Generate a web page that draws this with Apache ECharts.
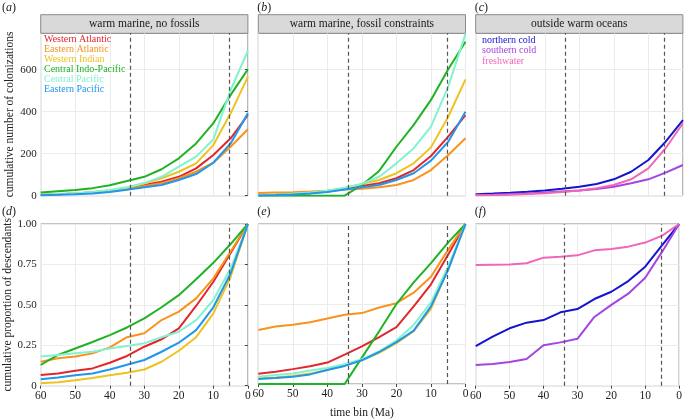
<!DOCTYPE html>
<html>
<head>
<meta charset="utf-8">
<script src="https://cdn.jsdelivr.net/npm/echarts@6/dist/echarts.min.js"></script>
<style>
  html, body { margin: 0; padding: 0; background: #fff; }
  #main { width: 685px; height: 420px; }
</style>
</head>
<body>
<div id="main"></div>
<script>
// time bins (Ma), oldest first
const times = [60, 55, 50, 45, 40, 35, 30, 25, 20, 15, 10, 5, 0];
const xTickLabels = [60, 50, 40, 30, 20, 10, 0];
const boundaries = [34, 5.3]; // Eocene-Oligocene, Miocene-Pliocene

// (a) warm marine, no fossils - cumulative number of colonizations
const aWestAtl = [4, 7, 11, 16, 24, 35, 51, 67, 90, 130, 194, 273, 384];
const aEastAtl = [3, 6, 10, 15, 22, 33, 46, 59, 83, 114, 157, 233, 316];
const aWestInd = [4, 7, 11, 17, 26, 38, 58, 83, 114, 154, 241, 392, 567];
const aCentIP = [15, 21, 27, 36, 50, 70, 90, 126, 178, 249, 345, 480, 602];
const aCentPac = [5, 8, 12, 18, 27, 40, 60, 90, 138, 186, 268, 503, 690];
const aEastPac = [2, 4, 7, 11, 18, 28, 40, 51, 75, 103, 157, 249, 392];

// (b) warm marine, fossil constraints
const bWestAtl = [2, 4, 7, 12, 20, 32, 46, 59, 83, 122, 189, 281, 384];
const bEastAtl = [13, 15, 17, 20, 24, 30, 33, 40, 51, 75, 122, 194, 273];
const bWestInd = [3, 5, 9, 14, 23, 36, 56, 75, 107, 154, 230, 376, 554];
const bCentIP = [0, 0, 0, 0, 0, 0, 51, 118, 233, 337, 456, 602, 733];
const bCentPac = [3, 5, 9, 15, 24, 38, 56, 90, 154, 226, 329, 519, 770];
const bEastPac = [1, 3, 6, 10, 18, 30, 40, 51, 75, 107, 167, 257, 400];

// (c) outside warm oceans
const cNorthCold = [7, 10, 14, 19, 25, 33, 43, 56, 78, 114, 170, 257, 360];
const cSouthCold = [3, 5, 8, 11, 15, 20, 25, 32, 43, 59, 78, 110, 146];
const cFresh = [2, 3, 5, 8, 12, 18, 25, 35, 51, 78, 130, 226, 345];

// (d) cumulative proportion of descendants, no fossils
const dWestAtl = [0.066, 0.076, 0.093, 0.107, 0.142, 0.184, 0.241, 0.287, 0.355, 0.493, 0.643, 0.82, 1];
const dEastAtl = [0.148, 0.17, 0.18, 0.2, 0.237, 0.3, 0.324, 0.406, 0.458, 0.54, 0.664, 0.83, 1];
const dWestInd = [0.015, 0.022, 0.033, 0.047, 0.064, 0.08, 0.1, 0.148, 0.216, 0.3, 0.447, 0.674, 1];
const dCentIP = [0.128, 0.19, 0.23, 0.27, 0.313, 0.36, 0.416, 0.485, 0.56, 0.658, 0.76, 0.876, 1];
const dCentPac = [0.18, 0.19, 0.2, 0.21, 0.23, 0.245, 0.262, 0.3, 0.334, 0.406, 0.53, 0.726, 1];
const dEastPac = [0.04, 0.05, 0.064, 0.076, 0.1, 0.13, 0.159, 0.21, 0.266, 0.344, 0.485, 0.695, 1];

// (e) fossil constraints
const eWestAtl = [0.064, 0.076, 0.093, 0.111, 0.134, 0.184, 0.235, 0.293, 0.355, 0.485, 0.623, 0.81, 1];
const eEastAtl = [0.338, 0.36, 0.371, 0.386, 0.41, 0.433, 0.443, 0.478, 0.505, 0.571, 0.67, 0.84, 1];
const eWestInd = [0.035, 0.04, 0.05, 0.065, 0.09, 0.115, 0.15, 0.195, 0.255, 0.33, 0.47, 0.72, 1];
const eCentIP = [0, 0, 0, 0, 0, 0, 0.165, 0.33, 0.5, 0.635, 0.755, 0.885, 1];
const eCentPac = [0.045, 0.056, 0.066, 0.085, 0.1, 0.124, 0.155, 0.204, 0.272, 0.369, 0.51, 0.736, 1];
const eEastPac = [0.031, 0.037, 0.045, 0.06, 0.087, 0.113, 0.148, 0.2, 0.262, 0.334, 0.485, 0.715, 1];

// (f) outside warm oceans
const fNorthCold = [0.245, 0.303, 0.355, 0.39, 0.406, 0.454, 0.474, 0.536, 0.581, 0.647, 0.736, 0.87, 1];
const fSouthCold = [0.128, 0.134, 0.146, 0.165, 0.25, 0.268, 0.29, 0.425, 0.5, 0.569, 0.668, 0.829, 1];
const fFresh = [0.746, 0.748, 0.75, 0.757, 0.792, 0.798, 0.806, 0.837, 0.845, 0.86, 0.885, 0.928, 1];

const countTicks = [0, 200, 400, 600];
const propTicks = [0, 0.25, 0.5, 0.75, 1];

const warmNames = ['Western Atlantic', 'Eastern Atlantic', 'Western Indian',
  'Central Indo-Pacific', 'Central Pacific', 'Eastern Pacific'];
const coldNames = ['northern cold', 'southern cold', 'freshwater'];
const colors = {
  'Western Atlantic': '#e3262b',
  'Eastern Atlantic': '#f7931e',
  'Western Indian': '#eec21f',
  'Central Indo-Pacific': '#1fb323',
  'Central Pacific': '#82f2cf',
  'Eastern Pacific': '#2196ec',
  'northern cold': '#1414cf',
  'southern cold': '#a444e2',
  'freshwater': '#f166b6'
};
const stripTitles = ['warm marine, no fossils', 'warm marine, fossil constraints', 'outside warm oceans'];
const panelLetters = ['a', 'b', 'c', 'd', 'e', 'f'];

const panelData = [
  [aWestAtl, aEastAtl, aWestInd, aCentIP, aCentPac, aEastPac],
  [bWestAtl, bEastAtl, bWestInd, bCentIP, bCentPac, bEastPac],
  [cNorthCold, cSouthCold, cFresh],
  [dWestAtl, dEastAtl, dWestInd, dCentIP, dCentPac, dEastPac],
  [eWestAtl, eEastAtl, eWestInd, eCentIP, eCentPac, eEastPac],
  [fNorthCold, fSouthCold, fFresh]
];

const FONT = 'Liberation Serif';
const colLeft = [40.7, 258.3, 475.7];
const panelW = 207.2;
const rowTop = [33.3, 224];
const rowH = [162.4, 161.7];

var myChart = echarts.init(document.getElementById('main'));

let grids = [], xAxes = [], yAxes = [], series = [], graphics = [];

for (let p = 0; p < 6; p++) {
  let row = Math.floor(p / 3), col = p % 3;
  let bottomRow = row == 1, leftCol = col == 0;
  grids.push({
    left: colLeft[col], top: rowTop[row], width: panelW, height: rowH[row],
    show: true, borderColor: '#8a8a8a', borderWidth: 1, backgroundColor: '#fff'
  });
  xAxes.push({
    type: 'value', gridIndex: p, inverse: true, min: 0, max: 60, interval: 5,
    axisLine: { show: false },
    axisTick: { show: bottomRow, length: 3, lineStyle: { color: '#444' }, customValues: xTickLabels },
    axisLabel: { show: bottomRow, customValues: xTickLabels, margin: 4,
      fontFamily: FONT, fontSize: 11.5, color: '#222' },
    splitLine: { show: true, lineStyle: { color: '#ebebeb', width: 1 } },
    name: p == 4 ? 'time bin (Ma)' : '', nameLocation: 'middle', nameGap: 23,
    nameTextStyle: { fontFamily: FONT, fontSize: 11.5, color: '#222' }
  });
  let ticks = row == 0 ? countTicks : propTicks;
  yAxes.push({
    type: 'value', gridIndex: p, min: 0,
    max: row == 0 ? 773 : 1, interval: row == 0 ? 100 : 0.125,
    axisLine: { show: false },
    axisTick: { show: leftCol, length: 3, lineStyle: { color: '#444' }, customValues: ticks },
    axisLabel: { show: leftCol, customValues: ticks, margin: 4,
      fontFamily: FONT, fontSize: 11, color: '#222',
      formatter: function (v) { return (row == 0 || v == 0) ? String(v) : v.toFixed(2); } },
    splitLine: { show: true, lineStyle: { color: '#ebebeb', width: 1 } },
    name: leftCol ? (row == 0 ? 'cumulative number of colonizations' : 'cumulative proportion of descendants') : '',
    nameLocation: 'middle', nameGap: 25,
    nameTextStyle: { fontFamily: FONT, fontSize: 11.5, color: '#222' }
  });

  let names = col == 2 ? coldNames : warmNames;
  panelData[p].forEach(function (vals, i) {
    let nm = names[i];
    series.push({
      type: 'line', name: nm, xAxisIndex: p, yAxisIndex: p,
      data: times.map(function (t, k) { return [t, vals[k]]; }),
      showSymbol: false, symbol: 'none', silent: true,
      lineStyle: { width: 2, color: colors[nm] }, itemStyle: { color: colors[nm] }
    });
  });
  // dashed boundaries
  series.push({
    type: 'line', xAxisIndex: p, yAxisIndex: p, data: [], silent: true,
    markLine: {
      symbol: 'none', silent: true, label: { show: false },
      lineStyle: { type: [4, 3], color: '#555', width: 1.2 },
      data: boundaries.map(function (b) { return { xAxis: b }; })
    }
  });

  // strips on top row
  if (row == 0) {
    graphics.push({
      type: 'rect', shape: { x: colLeft[col], y: 14.7, width: panelW, height: 18.6 },
      style: { fill: '#d9d9d9', stroke: '#8a8a8a', lineWidth: 1 }
    });
    graphics.push({
      type: 'text', x: colLeft[col] + panelW / 2, y: 24,
      style: { text: stripTitles[col], font: '11.5px "Liberation Serif"', fill: '#1a1a1a',
        align: 'center', verticalAlign: 'middle' }
    });
  }
  // panel letters
  graphics.push({
    type: 'text', x: leftCol ? 2 : colLeft[col] - 1, y: row == 0 ? 8 : 212,
    style: {
      text: '{n|(}{i|' + panelLetters[p] + '}{n|)}', verticalAlign: 'middle',
      rich: {
        n: { fontFamily: FONT, fontSize: 12, fill: '#222', color: '#222' },
        i: { fontFamily: FONT, fontSize: 12, fontStyle: 'italic', fill: '#222', color: '#222' }
      }
    }
  });
}

function legendItems(names) {
  return names.map(function (n) {
    return { name: n, icon: 'none', textStyle: { color: colors[n] } };
  });
}

let option = {
  animation: false,
  grid: grids,
  xAxis: xAxes,
  yAxis: yAxes,
  series: series,
  legend: [
    { data: legendItems(warmNames), orient: 'vertical', left: 39, top: 34.5,
      itemWidth: 0, itemHeight: 9, itemGap: 0, padding: 0, selectedMode: false,
      textStyle: { fontFamily: FONT, fontSize: 10, lineHeight: 9 } },
    { data: legendItems(coldNames), orient: 'vertical', left: 477, top: 35.5,
      itemWidth: 0, itemHeight: 9, itemGap: 0.3, padding: 0, selectedMode: false,
      textStyle: { fontFamily: FONT, fontSize: 10, lineHeight: 9 } }
  ],
  graphic: graphics
};

myChart.setOption(option);
</script>
</body>
</html>
